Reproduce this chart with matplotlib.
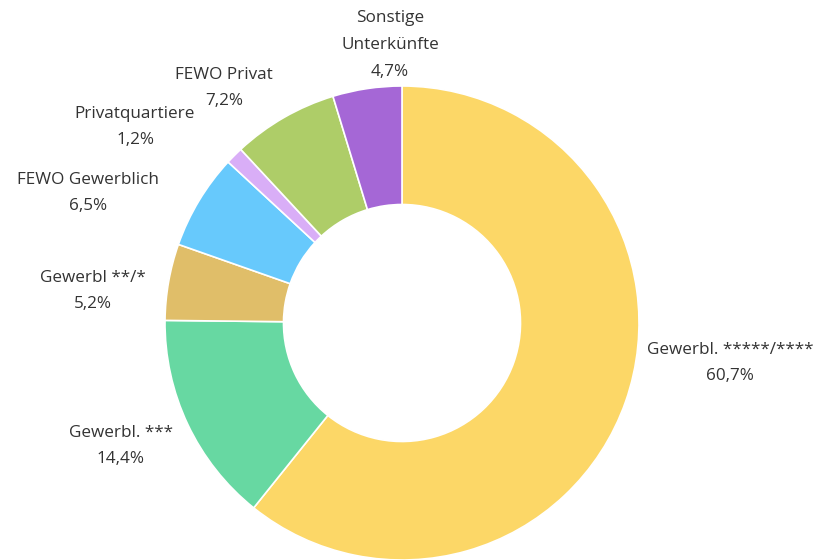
import matplotlib
matplotlib.use("Agg")
import matplotlib.pyplot as plt

categories = ["Gewerbl. *****/****", "Gewerbl. ***", "Gewerbl **/*", "FEWO Gewerblich",
              "Privatquartiere", "FEWO Privat", "Sonstige\nUnterkünfte"]
values = [60.7, 14.4, 5.2, 6.5, 1.2, 7.2, 4.7]
colors = ["#FCD767", "#67D8A2", "#E0BE69", "#67C9FC", "#D9AEF7", "#AECD68", "#A567D6"]

# label block centres in pixels (layout only)
label_pos = [(730, 363), (121, 446), (93, 291), (88, 193), (135, 127), (224, 88), (390, 45)]

W, H = 816, 560
plt.rcParams['font.family'] = ['Open Sans', 'DejaVu Sans']
fig = plt.figure(figsize=(W / 100, H / 100), dpi=100)

cx, cy, R = 402, 323, 237
ax = fig.add_axes([(cx - R) / W, (H - cy - R) / H, 2 * R / W, 2 * R / H])
ax.pie(values, colors=colors, startangle=90, counterclock=False, radius=1,
       wedgeprops=dict(width=0.5, edgecolor="white", linewidth=1.2))
ax.set_xlim(-1, 1)
ax.set_ylim(-1, 1)
ax.set_aspect("equal")
ax.axis("off")

for cat, v, (px, py) in zip(categories, values, label_pos):
    txt = cat + "\n" + f"{v:.1f}".replace(".", ",") + "%"
    fig.text(px / W, 1 - py / H, txt, ha="center", va="center", fontsize=12.3,
             color="#333333", linespacing=1.88)

fig.savefig("out.png", dpi=100)
